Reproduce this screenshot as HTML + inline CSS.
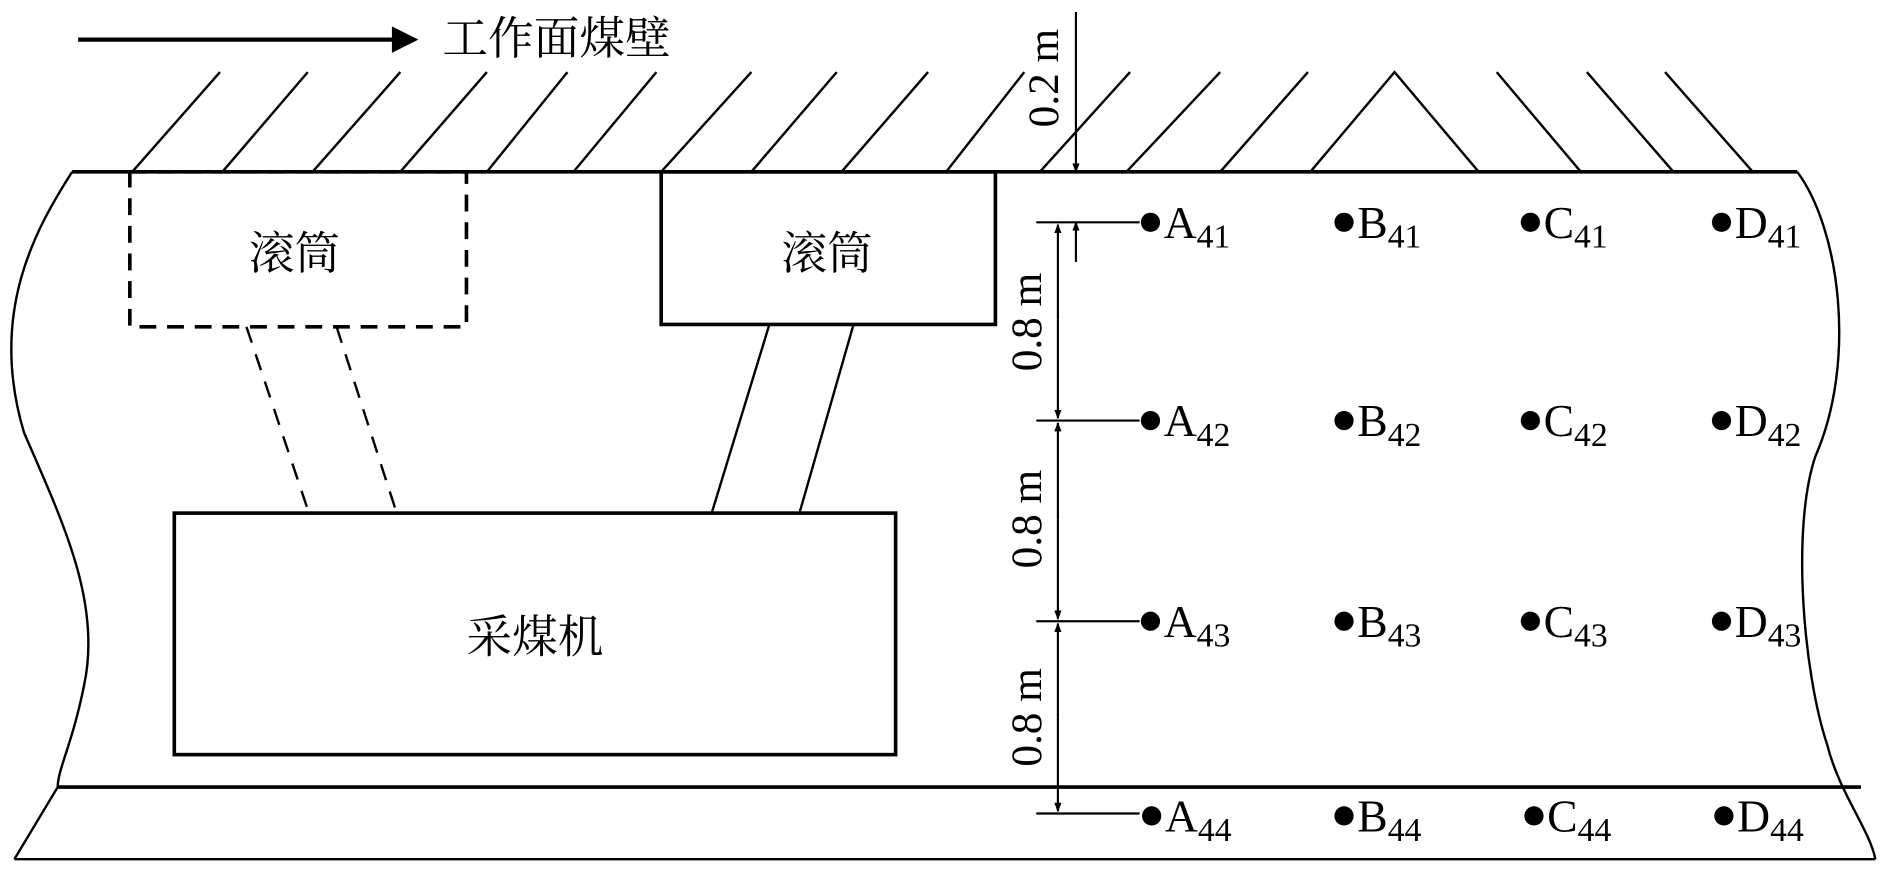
<!DOCTYPE html>
<html><head><meta charset="utf-8"><style>
html,body{margin:0;padding:0;background:#fff;}
svg{display:block;}
text{font-family:"Liberation Serif","Noto Serif CJK SC",serif;fill:#000;}
</style></head><body>
<svg width="1885" height="876" viewBox="0 0 1568 729" preserveAspectRatio="none" xmlns="http://www.w3.org/2000/svg">
<defs>
<marker id="ah" markerWidth="8" markerHeight="8" refX="7" refY="4" orient="auto" markerUnits="userSpaceOnUse"><path d="M0,1 L8,4 L0,7z" fill="#000"/></marker>
</defs>
<g stroke="#000" stroke-width="2.5" fill="none">
<line x1="65" y1="33" x2="328" y2="33" stroke-width="3.5"/>
</g>
<path d="M326,22 L348,33 L326,44z" fill="#000"/>
<text x="368" y="45" font-size="38" font-family="'Noto Serif CJK SC',serif">工作面煤壁</text>
<g stroke="#000" stroke-width="2" fill="none">
<line x1="110" y1="143" x2="183" y2="60"/>
<line x1="185" y1="143" x2="256" y2="60"/>
<line x1="260" y1="143" x2="333" y2="60"/>
<line x1="333" y1="143" x2="405" y2="60"/>
<line x1="405" y1="143" x2="472" y2="60"/>
<line x1="477" y1="143" x2="546" y2="60"/>
<line x1="550" y1="143" x2="625" y2="60"/>
<line x1="625" y1="143" x2="696" y2="60"/>
<line x1="700" y1="143" x2="772" y2="60"/>
<line x1="787" y1="143" x2="852" y2="60"/>
<line x1="865" y1="143" x2="940" y2="60"/>
<line x1="937" y1="143" x2="1015" y2="60"/>
<line x1="1015" y1="143" x2="1088" y2="60"/>
<polyline points="1090,143 1160,60 1230,143"/>
<line x1="1245" y1="60" x2="1315" y2="143"/>
<line x1="1320" y1="60" x2="1392" y2="143"/>
<line x1="1385" y1="60" x2="1458" y2="143"/>
<path d="M1495,143 C1530,190 1545,300 1510,380 C1490,440 1500,560 1520,620 C1530,660 1555,690 1560,715"/>
<path d="M60,143 C30,190 -10,260 20,360 C50,430 85,500 70,570 C60,620 48,640 48,655 L12,715"/>
<line x1="12" y1="715" x2="1560" y2="715"/>
</g>
<g stroke="#000" stroke-width="3" fill="none">
<line x1="60" y1="143" x2="1495" y2="143"/>
<line x1="48" y1="655" x2="1548" y2="655"/>
<rect x="550" y="143" width="278" height="127"/>
<rect x="145" y="427" width="600" height="201"/>
<rect x="108" y="143" width="280" height="129" stroke-dasharray="14,9"/>
</g>
<g stroke="#000" stroke-width="2" fill="none">
<line x1="205" y1="272" x2="257" y2="427" stroke-dasharray="14,10"/>
<line x1="280" y1="272" x2="330" y2="427" stroke-dasharray="14,10"/>
<line x1="640" y1="270" x2="592" y2="427"/>
<line x1="710" y1="270" x2="665" y2="427"/>
</g>
<text x="245" y="224" font-size="38" text-anchor="middle" font-family="'Noto Serif CJK SC',serif">滚筒</text>
<text x="688" y="224" font-size="38" text-anchor="middle" font-family="'Noto Serif CJK SC',serif">滚筒</text>
<text x="445" y="543" font-size="38" text-anchor="middle" font-family="'Noto Serif CJK SC',serif">采煤机</text>
<g stroke="#000" stroke-width="1.8" fill="none">
<line x1="895" y1="10" x2="895" y2="143" marker-end="url(#ah)"/>
<line x1="895" y1="218" x2="895" y2="185" marker-end="url(#ah)"/>
<line x1="880" y1="266" x2="880" y2="187" marker-end="url(#ah)"/>
<line x1="880" y1="266" x2="880" y2="348" marker-end="url(#ah)"/>
<line x1="880" y1="432" x2="880" y2="352" marker-end="url(#ah)"/>
<line x1="880" y1="432" x2="880" y2="515" marker-end="url(#ah)"/>
<line x1="880" y1="597" x2="880" y2="519" marker-end="url(#ah)"/>
<line x1="880" y1="597" x2="880" y2="675" marker-end="url(#ah)"/>
<line x1="862" y1="185" x2="948" y2="185"/>
<line x1="862" y1="350" x2="948" y2="350"/>
<line x1="862" y1="517" x2="948" y2="517"/>
<line x1="862" y1="677" x2="948" y2="677"/>
</g>
<g font-size="36">
<text transform="translate(880,65) rotate(-90)" text-anchor="middle">0.2 m</text>
<text transform="translate(866,268) rotate(-90)" text-anchor="middle">0.8 m</text>
<text transform="translate(866,432) rotate(-90)" text-anchor="middle">0.8 m</text>
<text transform="translate(866,597) rotate(-90)" text-anchor="middle">0.8 m</text>
</g>
<g fill="#000">
<circle cx="957" cy="185" r="8"/><circle cx="1118" cy="185" r="8"/><circle cx="1273" cy="185" r="8"/><circle cx="1432" cy="185" r="8"/>
<circle cx="957" cy="350" r="8"/><circle cx="1118" cy="350" r="8"/><circle cx="1273" cy="350" r="8"/><circle cx="1432" cy="350" r="8"/>
<circle cx="957" cy="517" r="8"/><circle cx="1118" cy="517" r="8"/><circle cx="1273" cy="517" r="8"/><circle cx="1432" cy="517" r="8"/>
<circle cx="958" cy="679" r="8"/><circle cx="1118" cy="679" r="8"/><circle cx="1276" cy="679" r="8"/><circle cx="1434" cy="679" r="8"/>
</g>
<g font-size="38">
<text x="968" y="198">A<tspan font-size="28" dy="8">41</tspan></text>
<text x="1129" y="198">B<tspan font-size="28" dy="8">41</tspan></text>
<text x="1284" y="198">C<tspan font-size="28" dy="8">41</tspan></text>
<text x="1443" y="198">D<tspan font-size="28" dy="8">41</tspan></text>
<text x="968" y="363">A<tspan font-size="28" dy="8">42</tspan></text>
<text x="1129" y="363">B<tspan font-size="28" dy="8">42</tspan></text>
<text x="1284" y="363">C<tspan font-size="28" dy="8">42</tspan></text>
<text x="1443" y="363">D<tspan font-size="28" dy="8">42</tspan></text>
<text x="968" y="530">A<tspan font-size="28" dy="8">43</tspan></text>
<text x="1129" y="530">B<tspan font-size="28" dy="8">43</tspan></text>
<text x="1284" y="530">C<tspan font-size="28" dy="8">43</tspan></text>
<text x="1443" y="530">D<tspan font-size="28" dy="8">43</tspan></text>
<text x="969" y="692">A<tspan font-size="28" dy="8">44</tspan></text>
<text x="1129" y="692">B<tspan font-size="28" dy="8">44</tspan></text>
<text x="1287" y="692">C<tspan font-size="28" dy="8">44</tspan></text>
<text x="1445" y="692">D<tspan font-size="28" dy="8">44</tspan></text>
</g>
</svg>
</body></html>
